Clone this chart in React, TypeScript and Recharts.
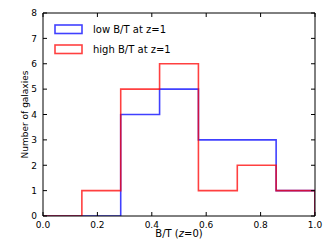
import React from 'react';
import { ComposedChart, Line, XAxis, YAxis, Legend } from 'recharts';

const binEdges = [0, 0.1429, 0.2857, 0.4286, 0.5714, 0.7143, 0.8571, 1.0];
const lowBTCounts = [0, 0, 4, 5, 3, 3, 1];
const highBTCounts = [0, 1, 5, 6, 1, 2, 1];
const xTicks = [0, 0.2, 0.4, 0.6, 0.8, 1.0];
const yTicks = [0, 1, 2, 3, 4, 5, 6, 7, 8];
const seriesNames = ['low B/T at z=1', 'high B/T at z=1'];
const seriesColors = ['#0000ff', '#ff0000'];

const data: { x: number; low: number; high: number }[] = [];
for (let i = 0; i < lowBTCounts.length; i++) {
  data.push({ x: binEdges[i], low: lowBTCounts[i], high: highBTCounts[i] });
}
const last = lowBTCounts.length - 1;
data.push({ x: binEdges[binEdges.length - 1], low: lowBTCounts[last], high: highBTCounts[last] });
data.push({ x: binEdges[binEdges.length - 1], low: 0, high: 0 });

const FONT = 'DejaVu Sans';
const TL = 4;

const BottomTick = (props: any) => {
  const { x, y, payload } = props;
  return (
    <g>
      <line x1={x} y1={y} x2={x} y2={y - TL} stroke="#000" strokeWidth={1} />
      <text x={x} y={y + 11.5} textAnchor="middle" fontSize={9} fontFamily={FONT} fill="#000">
        {Number(payload.value).toFixed(1)}
      </text>
    </g>
  );
};

const TopTick = (props: any) => {
  const { x, y } = props;
  return <line x1={x} y1={y} x2={x} y2={y + TL} stroke="#000" strokeWidth={1} />;
};

const LeftTick = (props: any) => {
  const { x, y, payload } = props;
  return (
    <g>
      <line x1={x} y1={y} x2={x + TL} y2={y} stroke="#000" strokeWidth={1} />
      <text x={x - 6} y={y + 3.3} textAnchor="end" fontSize={9} fontFamily={FONT} fill="#000">
        {payload.value}
      </text>
    </g>
  );
};

const RightTick = (props: any) => {
  const { x, y } = props;
  return <line x1={x} y1={y} x2={x - TL} y2={y} stroke="#000" strokeWidth={1} />;
};

const XLabel = (props: any) => {
  const { viewBox } = props;
  const cx = viewBox.x + viewBox.width / 2;
  return (
    <text x={cx} y={viewBox.y + 21} textAnchor="middle" fontSize={10} fontFamily={FONT} fill="#000">
      B/T (<tspan fontStyle="italic">z</tspan>=0)
    </text>
  );
};

const YLabel = (props: any) => {
  const { viewBox } = props;
  const cy = viewBox.y + viewBox.height / 2;
  const cx = 28;
  return (
    <text
      x={cx}
      y={cy}
      textAnchor="middle"
      fontSize={9}
      fontFamily={FONT}
      fill="#000"
      transform={`rotate(-90, ${cx}, ${cy})`}
    >
      Number of galaxies
    </text>
  );
};

const LegendContent = () => {
  return (
    <div style={{ display: 'flex', flexDirection: 'column' }}>
      {seriesNames.map((name, i) => (
        <div key={i} style={{ display: 'flex', alignItems: 'center', height: 20 }}>
          <svg width={30} height={11} style={{ display: 'block' }}>
            <rect x={1} y={1} width={27} height={8.5} fill="none" stroke={seriesColors[i]} strokeOpacity={0.75} strokeWidth={1.6} />
          </svg>
          <span style={{ marginLeft: 9, fontSize: 10, fontFamily: FONT, color: '#000', lineHeight: '11px' }}>
            {name}
          </span>
        </div>
      ))}
    </div>
  );
};

export default function App() {
  return (
    <div style={{ position: 'absolute', left: 0, top: 0, background: '#fff' }}>
      <ComposedChart width={332} height={249} data={data} margin={{ top: 12, right: 16, bottom: 0, left: 0 }}>
        <XAxis
          xAxisId="bottom"
          dataKey="x"
          type="number"
          domain={[0, 1]}
          ticks={xTicks}
          orientation="bottom"
          height={33}
          tickLine={false}
          tickSize={0}
          tickMargin={0}
          axisLine={{ stroke: '#000', strokeWidth: 1 }}
          tick={<BottomTick />}
          interval={0}
          allowDataOverflow
          label={<XLabel />}
        />
        <XAxis
          xAxisId="top"
          dataKey="x"
          type="number"
          domain={[0, 1]}
          ticks={xTicks}
          orientation="top"
          height={1}
          tickLine={false}
          tickSize={0}
          tickMargin={0}
          axisLine={{ stroke: '#000', strokeWidth: 1 }}
          tick={<TopTick />}
          interval={0}
          allowDataOverflow
        />
        <YAxis
          yAxisId="left"
          type="number"
          domain={[0, 8]}
          ticks={yTicks}
          orientation="left"
          width={43}
          tickLine={false}
          tickSize={0}
          tickMargin={0}
          axisLine={{ stroke: '#000', strokeWidth: 1 }}
          tick={<LeftTick />}
          interval={0}
          allowDataOverflow
          label={<YLabel />}
        />
        <YAxis
          yAxisId="right"
          type="number"
          domain={[0, 8]}
          ticks={yTicks}
          orientation="right"
          width={1}
          tickLine={false}
          tickSize={0}
          tickMargin={0}
          axisLine={{ stroke: '#000', strokeWidth: 1 }}
          tick={<RightTick />}
          interval={0}
          allowDataOverflow
        />
        <Legend
          layout="vertical"
          align="center"
          verticalAlign="middle"
          content={<LegendContent />}
          wrapperStyle={{ position: 'absolute', left: 54, top: 19, width: 160, height: 42 }}
        />
        <Line
          xAxisId="bottom"
          yAxisId="left"
          type="stepAfter"
          dataKey="low"
          name={seriesNames[0]}
          stroke={seriesColors[0]}
          strokeOpacity={0.75}
          strokeWidth={1.6}
          dot={false}
          activeDot={false}
          isAnimationActive={false}
        />
        <Line
          xAxisId="bottom"
          yAxisId="left"
          type="stepAfter"
          dataKey="high"
          name={seriesNames[1]}
          stroke={seriesColors[1]}
          strokeOpacity={0.75}
          strokeWidth={1.6}
          dot={false}
          activeDot={false}
          isAnimationActive={false}
        />
      </ComposedChart>
    </div>
  );
}
